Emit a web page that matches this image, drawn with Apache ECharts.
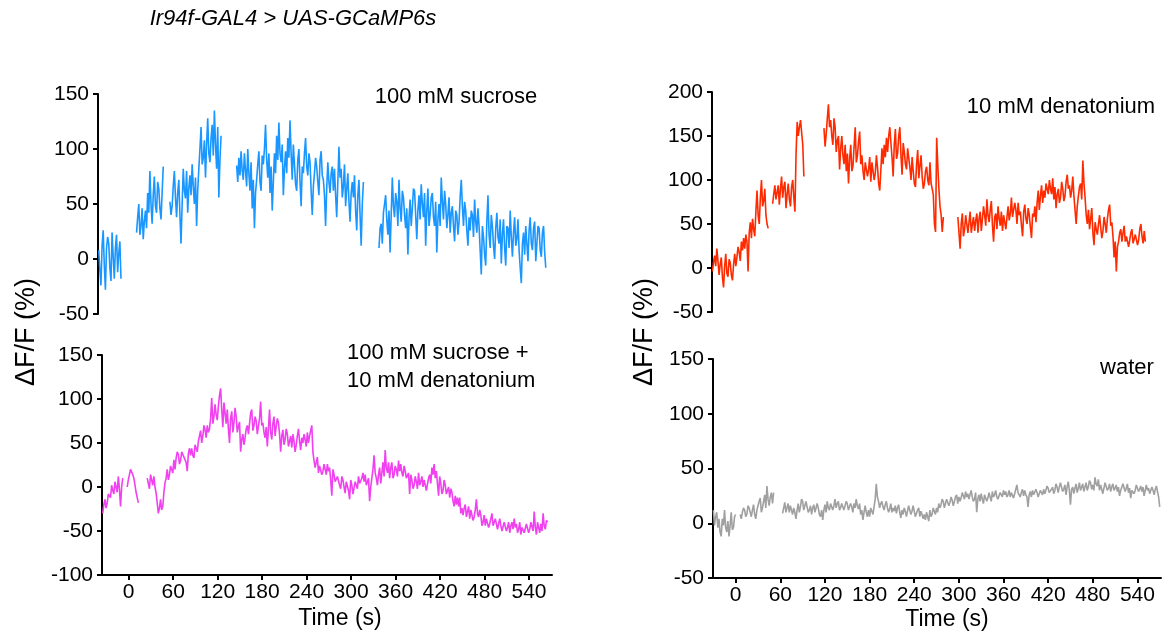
<!DOCTYPE html>
<html>
<head>
    <meta charset="utf-8">
    <title>Ir94f-GAL4 > UAS-GCaMP6s</title>
    <style>
        html, body { margin: 0; padding: 0; background: #fff; }
    </style>
</head>
<body>
    <script type="text/javascript" src="https://cdn.jsdelivr.net/npm/echarts@6/dist/echarts.min.js"></script>

    <div id="main" style="width: 1173px;height:637px;"></div>

    <script type="text/javascript">
        // values read every 3 s, plus the reading half-way between (mids); null = gap
        var STEP = 3;
        var xTicks = [0, 60, 120, 180, 240, 300, 360, 420, 480, 540];

        // 100 mM sucrose (starts at -35 s)
        var sucroseStart = -35;
        var sucroseVals = [
            8,-24,26,-28,20,-8,24,-18,22,5,-18,
            null,null,null,null,null,null,
            24,50,30,18,44,60,80,32,75,42,64,36,84,
            null,null,
            52,48,80,38,72,14,82,55,42,76,86,50,30,82,120,92,74,128,88,122,135,82,56,112,
            null,null,null,null,null,null,
            85,92,98,72,80,100,62,46,28,72,98,62,86,122,74,60,44,96,112,124,
            88,58,98,110,126,72,86,62,100,48,78,110,76,88,40,78,84,58,98,72,30,88,
            60,84,82,38,102,82,66,48,78,34,70,76,26,72,12,70,
            null,null,null,null,null,null,
            10,32,42,58,22,6,74,38,52,72,34,56,28,4,54,46,62,18,58,68,
            38,12,64,40,60,30,6,50,74,36,50,40,24,48,16,40,34,72,30,44,
            12,26,40,54,24,30,-14,20,-6,58,10,30,0,42,14,-4,36,-6,28,44,
            2,38,18,8,-22,24,30,-2,38,8,34,14,28,2,30,-8
        ];
        var sucroseMids = [
            -10,12,-6,10,14,-20,2,10,-12,16,null,
            null,null,null,null,null,null,
            38,22,46,34,28,42,50,58,48,70,46,60,null,
            null,null,
            40,66,56,60,40,50,62,80,64,58,66,74,62,100,86,108,104,96,110,94,104,120,90,null,
            null,null,null,null,null,null,
            70,76,80,96,66,78,88,72,60,86,70,94,100,90,96,84,70,78,90,96,
            104,82,78,92,96,104,68,90,70,84,96,84,96,62,66,92,70,90,76,58,64,70,
            78,62,58,70,74,56,86,64,52,60,56,44,58,40,50,null,
            null,null,null,null,null,null,
            28,14,50,36,44,40,48,60,30,46,62,40,46,36,30,64,40,44,36,50,
            60,44,30,56,38,52,36,30,52,62,28,56,42,30,44,22,56,48,52,26,
            38,44,20,34,46,8,30,4,34,22,40,12,28,20,36,22,10,30,10,20,
            24,12,36,-8,14,4,14,26,14,28,-2,30,8,24,6,null
        ];

        // 100 mM sucrose + 10 mM denatonium (starts at -35 s)
        var mixStart = -35;
        var mixVals = [
            -30,-14,-18,-6,2,-8,4,12,-22,10,
            null,
            0,14,18,10,-6,-18,
            null,null,null,
            10,-2,12,12,-7,-30,-14,-22,5,20,
            14,22,31,33,37,30,42,36,18,44,
            44,33,46,52,64,58,65,70,66,101,
            80,82,92,112,68,84,88,50,86,73,
            80,69,40,60,56,70,72,88,70,75,
            62,97,73,56,46,88,54,80,69,73,
            40,65,54,60,52,45,52,48,66,42,
            50,54,62,58,70,30,28,16,24,18,
            20,26,22,-10,14,4,10,-2,8,-7,
            6,-14,2,-8,4,12,2,16,14,0,
            -16,10,36,10,14,4,28,42,16,10,
            28,14,20,30,26,12,18,8,-8,8,
            2,6,16,6,0,6,-2,14,22,26,
            18,-10,4,-4,2,-10,-12,-6,-22,-20,
            -22,-30,-32,-20,-28,-36,-28,-34,-14,-34,
            -32,-40,-44,-34,-42,-30,-46,-38,-42,-44,
            -48,-42,-46,-52,-40,-36,-42,-48,-54,-44,
            -50,-44,-48,-40,-28,-54,-46,-42,-30,-48,
            -40
        ];
        var mixMids = [
            -20,-24,-8,-12,-4,6,-6,-2,0,null,
            null,
            8,20,14,2,-12,null,
            null,null,null,
            4,14,2,0,-18,-24,-26,-6,10,8,
            24,16,20,40,26,40,34,28,38,36,
            36,48,40,58,50,70,56,62,78,72,
            94,76,104,88,96,72,66,78,62,90,
            62,74,54,48,66,60,84,64,80,60,
            78,70,62,68,66,62,72,58,78,60,
            58,48,66,46,58,60,40,58,52,56,
            60,46,50,64,40,22,34,24,14,26,
            14,18,8,20,6,12,2,12,0,6,
            -4,8,-8,6,-2,4,10,6,2,10,
            0,20,16,2,22,16,12,22,28,22,
            10,24,12,18,16,24,10,16,14,-2,
            12,-2,2,12,8,-4,10,4,14,10,
            20,12,-8,8,-8,0,-2,-16,-10,-12,
            -12,-24,-24,-34,-22,-26,-38,-26,-30,-26,
            -44,-32,-36,-46,-36,-44,-36,-48,-36,-50,
            -40,-50,-40,-44,-48,-46,-52,-40,-46,-52,
            -42,-52,-40,-50,-46,-40,-52,-50,-44,-38,
            null
        ];

        // 10 mM denatonium (starts at -30 s)
        var denStart = -30;
        var denVals = [
            -4,14,22,-8,12,-22,16,-10,6,-14,16,12,18,30,34,38,-4,52,56,36,88,50,100,76,60,45,
            null,
            73,94,86,72,104,92,68,96,70,100,64,166,160,170,104,
            null,null,null,null,null,null,null,null,
            159,152,186,168,140,160,145,112,150,118,
            110,96,140,116,160,128,155,128,100,122,
            112,98,118,108,114,88,136,140,148,150,
            142,104,158,130,160,106,132,112,134,100,
            110,92,134,116,104,96,115,94,96,83,
            41,117,70,41,
            null,null,null,null,null,null,
            58,22,62,44,58,52,40,58,54,40,
            64,44,60,78,52,76,30,62,70,48,
            42,62,58,54,80,56,66,74,64,36,
            72,50,60,34,58,52,88,82,74,80,
            96,100,84,78,68,90,80,90,82,106,
            94,88,82,50,82,96,122,80,50,44,
            68,26,44,50,46,42,50,56,72,52,
            12,-4,30,44,40,30,34,26,44,30,
            40,32,50,28,30
        ];
        var denMids = [
            6,2,8,4,-10,2,-6,10,-8,4,2,24,8,20,22,30,40,34,44,64,60,80,70,90,50,null,
            null,
            84,78,94,90,80,98,84,78,92,80,130,150,168,140,null,
            null,null,null,null,null,null,null,null,
            138,170,160,150,170,132,150,136,128,140,
            130,124,110,138,120,144,118,110,120,104,
            126,120,100,128,96,112,118,126,132,160,
            126,140,124,150,128,142,118,136,114,126,
            96,118,102,128,90,110,100,120,90,50,
            148,90,60,58,
            null,null,null,null,null,null,
            40,50,36,60,40,64,50,42,62,56,
            42,70,48,60,66,48,58,44,56,64,
            60,44,70,62,58,74,50,60,48,64,
            56,68,46,62,70,74,66,94,88,96,
            84,90,102,92,84,74,98,76,98,90,
            80,104,66,70,92,78,96,60,66,56,
            40,52,38,60,34,58,40,66,48,36,
            30,24,40,30,48,36,24,40,28,38,
            26,44,36,42,null
        ];

        // water (starts at -30 s)
        var waterStart = -30;
        var waterVals = [
            12,6,-4,-8,4,12,-8,-12,10,-4,8,
            null,
            8,10,12,8,14,6,17,4,16,23,14,26,34,16,28,28,
            null,null,null,
            9,19,14,10,12,14,4,18,15,20,
            16,15,12,8,17,11,14,6,3,17,
            20,12,18,16,14,20,14,17,13,18,
            12,15,18,22,13,8,3,16,6,6,
            11,15,36,20,18,15,17,14,13,10,
            11,9,17,5,8,11,11,12,11,11,
            7,14,11,4,3,6,12,8,11,14,
            18,17,20,18,23,19,21,20,26,24,
            23,27,29,27,26,24,22,10,26,27,
            18,25,23,24,29,26,24,25,28,30,
            29,26,24,29,27,35,29,28,25,26,
            15,29,30,27,28,25,30,31,30,32,
            27,33,30,33,33,38,31,26,38,17,
            33,32,28,37,31,29,37,33,37,35,
            42,34,30,31,32,36,32,29,36,32,
            29,25,31,35,32,28,23,31,30,34,
            31,29,25,35,32,28,30,31,29,15
        ];
        var waterMids = [
            -2,10,4,-12,-2,-4,2,-2,-6,6,null,
            null,
            4,14,6,16,10,12,8,12,20,10,20,14,22,24,18,null,
            null,null,null,
            14,10,18,16,8,10,12,10,22,12,
            20,10,16,14,10,18,8,12,12,10,
            14,18,12,22,18,12,18,12,20,12,
            18,10,14,16,18,12,10,10,12,14,
            8,22,24,14,20,12,20,10,18,14,
            16,14,10,12,14,6,16,8,16,6,
            12,6,8,8,10,2,6,14,8,10,
            14,22,14,22,16,24,16,24,18,20,
            28,22,24,22,30,20,28,22,20,22,
            26,20,28,20,24,30,22,28,24,26,
            24,30,28,23,31,28,24,31,30,24,
            26,24,26,31,24,30,26,27,34,28,
            31,27,36,28,37,29,35,33,30,31,
            27,36,32,30,36,33,30,39,31,30,
            36,40,35,27,37,30,36,33,30,35,
            33,30,36,29,36,32,30,27,35,29,
            34,33,30,30,27,33,26,34,24,null
        ];

        // [time, value] pairs: each 3 s reading followed by its half-way reading
        function toPairs(start, vals, mids) {
            var out = [];
            for (var i = 0; i < vals.length; i++) {
                var t = start + i * STEP;
                out.push([t, vals[i] === null ? '-' : vals[i]]);
                out.push([t + STEP / 2, mids[i] === null ? '-' : mids[i]]);
            }
            return out;
        }

        var FONT = 'Liberation Sans';

        function yAxisOf(grid, min, max) {
            return {
                type: 'value', gridIndex: grid, min: min, max: max, interval: 50,
                axisLine: { show: true, onZero: false, lineStyle: { color: '#000', width: 2 } },
                axisTick: { show: true, length: 5, lineStyle: { color: '#000', width: 2 } },
                axisLabel: { color: '#000', fontSize: 21, fontFamily: FONT, margin: 9 },
                splitLine: { show: false }
            };
        }

        function xAxisOf(grid, min, max, visible) {
            return {
                type: 'value', gridIndex: grid, min: min, max: max, show: visible,
                axisLine: { show: true, onZero: false, lineStyle: { color: '#000', width: 2 } },
                axisTick: { show: true, length: 5, customValues: xTicks, lineStyle: { color: '#000', width: 2 } },
                axisLabel: { color: '#000', fontSize: 21, fontFamily: FONT, margin: 7, customValues: xTicks },
                splitLine: { show: false }
            };
        }

        function trace(idx, data, color) {
            return {
                type: 'line', xAxisIndex: idx, yAxisIndex: idx, data: data,
                showSymbol: false, connectNulls: false, silent: true,
                lineStyle: { color: color, width: 1.6 }
            };
        }

        function label(x, y, text, size, extra) {
            var style = {
                text: text, fill: '#000', fontSize: size, fontFamily: FONT,
                align: 'center', verticalAlign: 'middle'
            };
            for (var k in extra) style[k] = extra[k];
            return { type: 'text', x: x, y: y, style: style };
        }

        var myChart = echarts.init(document.getElementById('main'));
        myChart.setOption({
            animation: false,
            backgroundColor: '#fff',
            grid: [
                { left: 98, top: 94, width: 450, height: 220, outerBoundsMode: 'none' },
                { left: 102, top: 355, width: 450, height: 220, outerBoundsMode: 'none' },
                { left: 712, top: 92, width: 448, height: 220, outerBoundsMode: 'none' },
                { left: 713, top: 359, width: 448, height: 219, outerBoundsMode: 'none' }
            ],
            xAxis: [
                xAxisOf(0, -36, 571, false),
                xAxisOf(1, -36, 571, true),
                xAxisOf(2, -30.5, 571.7, false),
                xAxisOf(3, -30.5, 571.7, true)
            ],
            yAxis: [
                yAxisOf(0, -50, 150),
                yAxisOf(1, -100, 150),
                yAxisOf(2, -50, 200),
                yAxisOf(3, -50, 150)
            ],
            series: [
                trace(0, toPairs(sucroseStart, sucroseVals, sucroseMids), '#1996FF'),
                trace(1, toPairs(mixStart, mixVals, mixMids), '#F040F0'),
                trace(2, toPairs(denStart, denVals, denMids), '#FF2A00'),
                trace(3, toPairs(waterStart, waterVals, waterMids), '#A0A0A0')
            ],
            graphic: [
                label(293, 19, 'Ir94f-GAL4 > UAS-GCaMP6s', 22, { fontStyle: 'italic' }),
                label(456, 97, '100 mM sucrose', 22),
                label(347, 353, '100 mM sucrose +', 22, { align: 'left' }),
                label(347, 381, '10 mM denatonium', 22, { align: 'left' }),
                label(1061, 107, '10 mM denatonium', 22),
                label(1127, 368, 'water', 22),
                label(340, 619, 'Time (s)', 23),
                label(947, 620, 'Time (s)', 23),
                { type: 'text', x: 27, y: 332, rotation: Math.PI / 2,
                  style: { text: 'ΔF/F (%)', fill: '#000', fontSize: 27, fontFamily: FONT, align: 'center', verticalAlign: 'middle' } },
                { type: 'text', x: 645, y: 332, rotation: Math.PI / 2,
                  style: { text: 'ΔF/F (%)', fill: '#000', fontSize: 27, fontFamily: FONT, align: 'center', verticalAlign: 'middle' } }
            ]
        });
    </script>
</body>
</html>
